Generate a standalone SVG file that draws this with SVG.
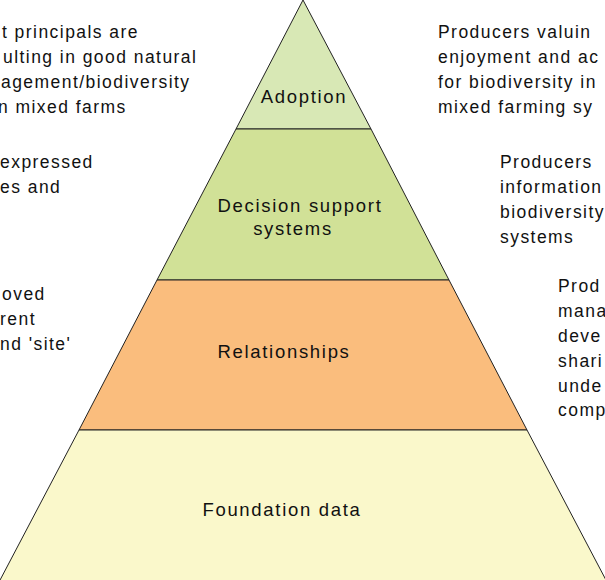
<svg xmlns="http://www.w3.org/2000/svg" width="605" height="580" viewBox="0 0 605 580">
<style>
text{font-family:"Liberation Sans",Arial,sans-serif;font-size:17.5px;fill:#111;letter-spacing:1.45px}
.c{text-anchor:middle;font-size:18.5px;letter-spacing:1.7px}
.layer{stroke:#222;stroke-width:1}
</style>
<rect width="605" height="580" fill="#fff"/>
<g id="adoption">
<polygon class="layer" points="303,0 236,129 371,129" fill="#d8e8b5"/>
<text class="c" x="304" y="103">Adoption</text>
</g>
<g id="decision-support">
<polygon class="layer" points="236,129 371,129 449,280 157,280" fill="#d1e197"/>
<text class="c" x="300" y="212">Decision support</text>
<text class="c" x="293" y="235">systems</text>
</g>
<g id="relationships">
<polygon class="layer" points="157,280 449,280 527,430 79,430" fill="#fabd7d"/>
<text class="c" x="284" y="358">Relationships</text>
</g>
<g id="foundation-data">
<polygon class="layer" points="79,430 527,430 607,582 -1,582" fill="#faf8cb"/>
<text class="c" x="282" y="516">Foundation data</text>
</g>
<g id="left-notes">
<text x="2" y="38">t principals are</text>
<text x="3" y="63">ulting in good natural</text>
<text x="1" y="88">agement/biodiversity</text>
<text x="-2" y="113">n mixed farms</text>
<text x="0" y="168">expressed</text>
<text x="0" y="193">es and</text>
<text x="2" y="300">oved</text>
<text x="0" y="325">rent</text>
<text x="0" y="350">nd 'site'</text>
</g>
<g id="right-notes">
<text x="438" y="38">Producers valuin</text>
<text x="438" y="63">enjoyment and ac</text>
<text x="438" y="88">for biodiversity in</text>
<text x="438" y="113">mixed farming sy</text>
<text x="500" y="168">Producers</text>
<text x="500" y="193">information</text>
<text x="500" y="218">biodiversity</text>
<text x="500" y="243">systems</text>
<text x="558" y="292">Prod</text>
<text x="558" y="317">mana</text>
<text x="558" y="342">deve</text>
<text x="558" y="367">shari</text>
<text x="558" y="392">unde</text>
<text x="558" y="416">comp</text>
</g>
</svg>
